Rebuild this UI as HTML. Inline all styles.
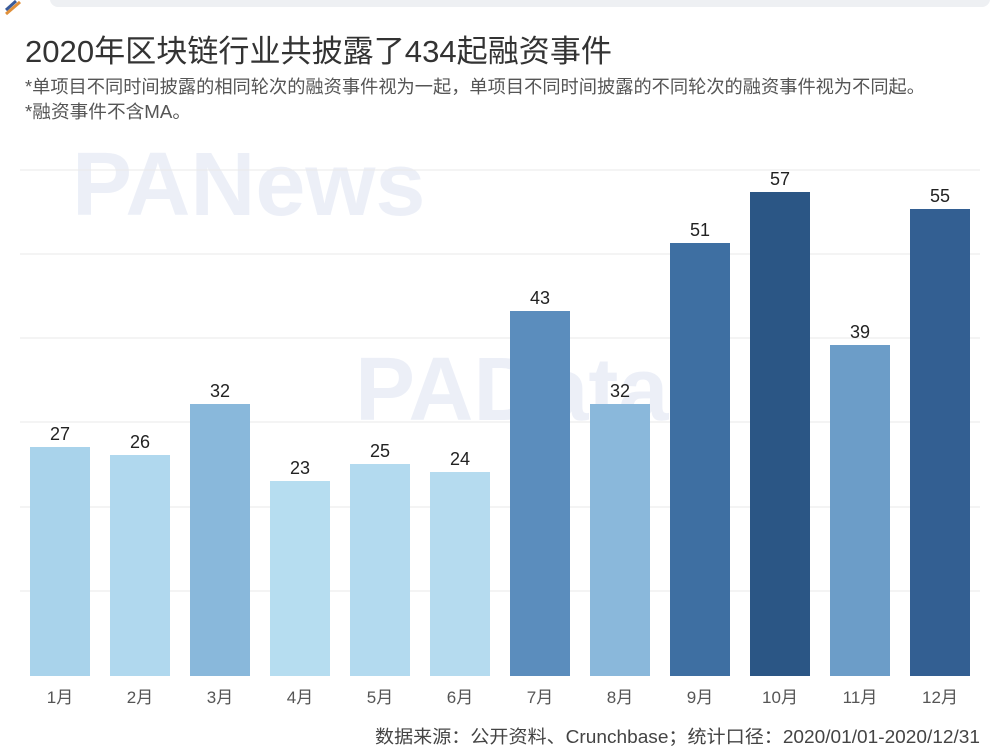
<!DOCTYPE html>
<html><head><meta charset="utf-8"><style>
body{margin:0;background:#fff;}
svg{display:block;font-family:"Liberation Sans","Noto Sans CJK SC",sans-serif;}
</style></head><body>
<svg width="1000" height="755" xmlns="http://www.w3.org/2000/svg">
<rect x="0" y="0" width="1000" height="755" fill="#fff"/>
<rect x="50" y="-10" width="940" height="17" rx="8" fill="#eef0f3"/>
<g stroke-width="3"><line x1="6" y1="14" x2="20" y2="2" stroke="#e0903a"/><line x1="6" y1="10" x2="16" y2="1" stroke="#3a5b9a"/></g>
<text x="25" y="62" font-size="31" fill="#333" textLength="587" lengthAdjust="spacingAndGlyphs">2020年区块链行业共披露了434起融资事件</text>
<text x="25" y="93" font-size="18" fill="#555" textLength="900" lengthAdjust="spacingAndGlyphs">*单项目不同时间披露的相同轮次的融资事件视为一起，单项目不同时间披露的不同轮次的融资事件视为不同起。</text>
<text x="25" y="118" font-size="18" fill="#555" textLength="166" lengthAdjust="spacingAndGlyphs">*融资事件不含MA。</text>
<g font-size="90" font-weight="bold" fill="#e8ecf6" opacity="0.8">
<text x="72" y="215">PANews</text>
<text x="355" y="420">PAData</text>
</g>
<g stroke="#eaeaea" stroke-width="1">
<line x1="20" y1="170" x2="980" y2="170"/><line x1="20" y1="254" x2="980" y2="254"/>
<line x1="20" y1="338" x2="980" y2="338"/><line x1="20" y1="422" x2="980" y2="422"/>
<line x1="20" y1="507" x2="980" y2="507"/><line x1="20" y1="591" x2="980" y2="591"/>
</g>
<g>
<rect x="30" y="447" width="60" height="229" fill="#a9d3eb"/>
<rect x="110" y="455" width="60" height="221" fill="#b0d8ee"/>
<rect x="190" y="404" width="60" height="272" fill="#89b8db"/>
<rect x="270" y="481" width="60" height="195" fill="#b6ddf0"/>
<rect x="350" y="464" width="60" height="212" fill="#b3daef"/>
<rect x="430" y="472" width="60" height="204" fill="#b5dbef"/>
<rect x="510" y="311" width="60" height="365" fill="#5b8dbd"/>
<rect x="590" y="404" width="60" height="272" fill="#8ab8db"/>
<rect x="670" y="243" width="60" height="433" fill="#3e6fa2"/>
<rect x="750" y="192" width="60" height="484" fill="#2b5685"/>
<rect x="830" y="345" width="60" height="331" fill="#6c9dc8"/>
<rect x="910" y="209" width="60" height="467" fill="#335f92"/>
</g>
<g font-size="18" fill="#222" text-anchor="middle">
<text x="60" y="440">27</text><text x="140" y="448">26</text><text x="220" y="397">32</text>
<text x="300" y="474">23</text><text x="380" y="457">25</text><text x="460" y="465">24</text>
<text x="540" y="304">43</text><text x="620" y="397">32</text><text x="700" y="236">51</text>
<text x="780" y="185">57</text><text x="860" y="338">39</text><text x="940" y="202">55</text>
</g>
<g font-size="17" fill="#555" text-anchor="middle">
<text x="60" y="703">1月</text><text x="140" y="703">2月</text><text x="220" y="703">3月</text>
<text x="300" y="703">4月</text><text x="380" y="703">5月</text><text x="460" y="703">6月</text>
<text x="540" y="703">7月</text><text x="620" y="703">8月</text><text x="700" y="703">9月</text>
<text x="780" y="703">10月</text><text x="860" y="703">11月</text><text x="940" y="703">12月</text>
</g>
<text x="375" y="743" font-size="18" fill="#444" textLength="605" lengthAdjust="spacingAndGlyphs">数据来源：公开资料、Crunchbase；统计口径：2020/01/01-2020/12/31</text>
</svg>
</body></html>
